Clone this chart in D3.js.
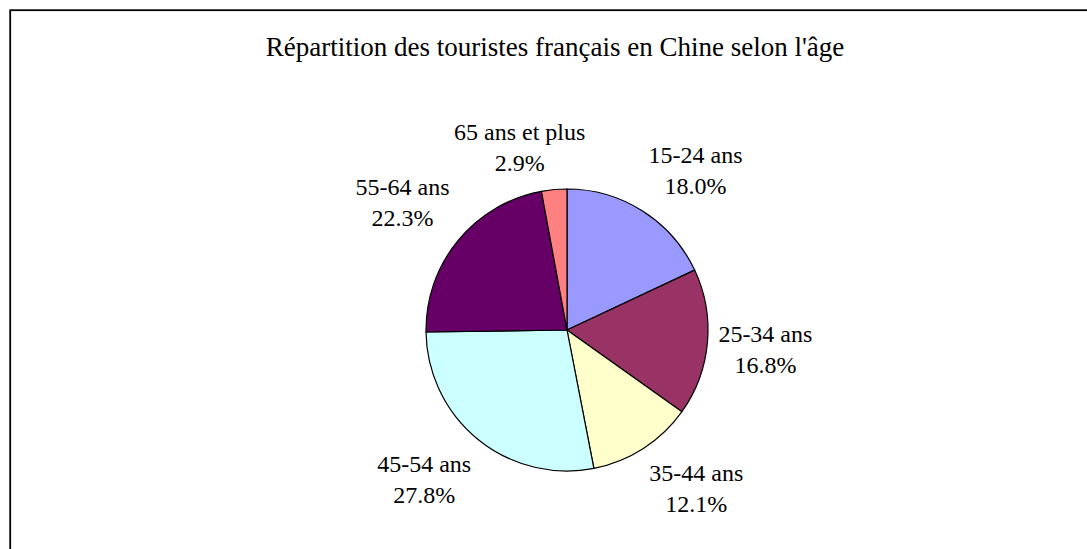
<!DOCTYPE html>
<html>
<head>
<meta charset="utf-8">
<script src="https://cdn.jsdelivr.net/npm/d3@7"></script>
<style>
  html, body { margin: 0; padding: 0; background: #fff; }
  svg { display: block; }
  text { font-family: "Liberation Serif", "Times New Roman", serif; fill: #000; }
</style>
</head>
<body>
<svg id="chart" width="1087" height="549"></svg>
<script>
const title = "Répartition des touristes français en Chine selon l'âge";
const categories = ["15-24 ans", "25-34 ans", "35-44 ans", "45-54 ans", "55-64 ans", "65 ans et plus"];
const values = [18.0, 16.8, 12.1, 27.8, 22.3, 2.9];
const colors = ["#9999FF", "#993366", "#FFFFCC", "#CCFFFF", "#660066", "#FF8080"];

const W = 1087, H = 549;
const svg = d3.select("#chart");

// chart frame
svg.append("rect")
  .attr("x", 10.2).attr("y", 10.2)
  .attr("width", 1200).attr("height", 700)
  .attr("fill", "#fff").attr("stroke", "#000").attr("stroke-width", 1.8);

svg.append("text")
  .attr("x", 555).attr("y", 55.5)
  .attr("text-anchor", "middle")
  .style("font-size", "27px")
  .text(title);

const cx = 567, cy = 330, R = 141;
const data = categories.map((c, i) => ({ cat: c, value: values[i], color: colors[i] }));

const pie = d3.pie().value(d => d.value).sort(null);
const arcs = pie(data);
const arc = d3.arc().innerRadius(0).outerRadius(R);

const g = svg.append("g").attr("transform", `translate(${cx},${cy})`);
g.selectAll("path").data(arcs).join("path")
  .attr("d", arc)
  .attr("fill", d => d.data.color)
  .attr("stroke", "#000")
  .attr("stroke-width", 1.2)
  .attr("stroke-linejoin", "round");

// labels (Excel-like outside placement)
const total = d3.sum(values);
const fmt = d3.format(".1f");
const lineH = 31, fs = 24;
const anchorR = R + 11;
arcs.forEach(a => {
  const mid = (a.startAngle + a.endAngle) / 2;
  const s = Math.sin(mid), c = Math.cos(mid);
  const ax = anchorR * s, ay = -anchorR * c;
  const t = g.append("text").attr("text-anchor", "middle").style("font-size", fs + "px");
  const l1 = t.append("tspan").text(a.data.cat);
  const l2 = t.append("tspan").text(fmt(a.data.value / total * 100) + "%");
  const w = Math.max(l1.node().getComputedTextLength(), l2.node().getComputedTextLength());
  const h = 2 * lineH;
  const fx = Math.max(0, Math.min(1, 0.5 - 2.8 * s));
  const fy = Math.max(0, Math.min(1, 0.5 + 1.0 * c));
  const bx = ax - fx * w, by = ay - fy * h;
  const mx = bx + w / 2;
  const off = fs * 0.34;
  l1.attr("x", mx).attr("y", by + lineH / 2 + off);
  l2.attr("x", mx).attr("y", by + lineH * 1.5 + off);
});
</script>
</body>
</html>
